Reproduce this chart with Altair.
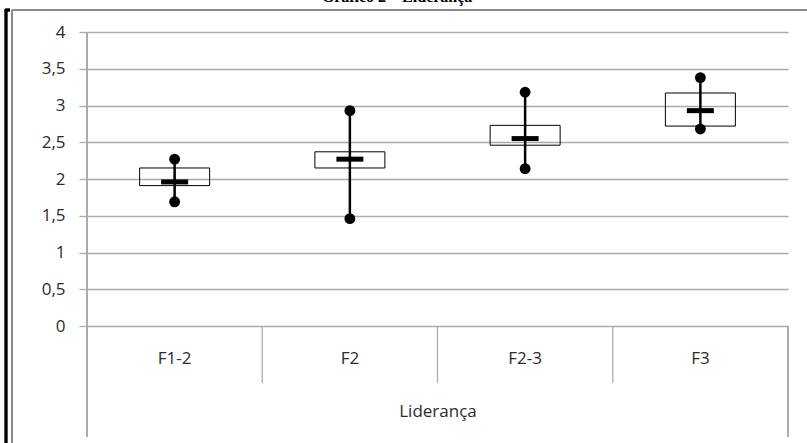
import altair as alt
import pandas as pd

# Leadership scores per group: range (min-max), box (lower-upper) and mean
categories = ["F1-2", "F2", "F2-3", "F3"]
min_values = [1.69, 1.46, 2.14, 2.68]
box_low = [1.91, 2.15, 2.46, 2.72]
mean_values = [1.96, 2.27, 2.55, 2.93]
box_high = [2.15, 2.37, 2.73, 3.17]
max_values = [2.27, 2.93, 3.18, 3.38]

title_text = "Gráfico 2 – Liderança"
group_label = "Liderança"
y_ticks = [0, 0.5, 1, 1.5, 2, 2.5, 3, 3.5, 4]

W, H = 701, 294
FONT = "Open Sans"
TEXT_COLOR = "#2b2b2b"
GRID = "#ababab"

df = pd.DataFrame({
    "cat": categories,
    "lo": min_values,
    "q1": box_low,
    "mean": mean_values,
    "q3": box_high,
    "hi": max_values,
})

x_axis = alt.Axis(
    title=group_label,
    domain=False,
    ticks=False,
    labelAngle=0,
    labelPadding=24,
    labelFontSize=17,
    labelFont=FONT,
    labelColor=TEXT_COLOR,
    titleFont=FONT,
    titleFontSize=17,
    titleFontWeight="normal",
    titleColor=TEXT_COLOR,
    titlePadding=37,
)
x_scale = alt.Scale(paddingInner=0, paddingOuter=0)

y_scale = alt.Scale(domain=[0, 4], nice=False)
y_axis = alt.Axis(
    title=None,
    values=y_ticks,
    format=".1~f",
    labelExpr="replace(datum.label, '.', ',')",
    labelOverlap=False,
    domain=False,
    grid=True,
    gridColor=GRID,
    gridWidth=1.3,
    tickColor=GRID,
    tickSize=8,
    tickWidth=1.3,
    labelPadding=14,
    labelFontSize=17,
    labelFont=FONT,
    labelColor=TEXT_COLOR,
)


def X(**kw):
    return alt.X("cat:N", sort=categories, scale=x_scale, axis=x_axis, **kw)


def Y(field):
    return alt.Y(f"{field}:Q", scale=y_scale, axis=y_axis)


base = alt.Chart(df)

boxes = base.mark_bar(size=70, fill="transparent", stroke="black", strokeWidth=1).encode(
    x=X(), y=Y("q1"), y2="q3:Q",
)

whiskers = base.mark_rule(color="black", strokeWidth=2.5).encode(
    x=X(), y=Y("lo"), y2="hi:Q",
)

means = base.mark_tick(
    color="black", thickness=5, size=27, orient="horizontal", opacity=1
).encode(x=X(), y=Y("mean"))

dots_lo = base.mark_circle(color="black", size=118, opacity=1).encode(x=X(), y=Y("lo"))
dots_hi = base.mark_circle(color="black", size=118, opacity=1).encode(x=X(), y=Y("hi"))

# vertical separators between groups below the axis
sep = alt.Chart(pd.DataFrame({"cat": categories[1:]})).mark_rule(
    color=GRID, strokeWidth=1.3
).encode(
    x=X(bandPosition=0),
    y=alt.value(H),
    y2=alt.value(H + 57),
)

# outer vertical lines of the category table
edge_left = base.mark_rule(color=GRID, strokeWidth=1.3).encode(
    x=alt.value(0), y=alt.value(0), y2=alt.value(H + 111)
)
edge_right = base.mark_rule(color=GRID, strokeWidth=1.3).encode(
    x=alt.value(W), y=alt.value(H), y2=alt.value(H + 111)
)

# page frame
frame_top = base.mark_rule(color="#8a8a8a", strokeWidth=2).encode(
    x=alt.value(-75), x2=alt.value(W + 40), y=alt.value(-22)
)
frame_gray = base.mark_rule(color="#8a8a8a", strokeWidth=2).encode(
    x=alt.value(-75), y=alt.value(-22), y2=alt.value(H + 130)
)
frame_black = base.mark_rule(color="black", strokeWidth=2.5).encode(
    x=alt.value(-81), y=alt.value(-23), y2=alt.value(H + 130)
)
frame_black_top = base.mark_rule(color="black", strokeWidth=2.5).encode(
    x=alt.value(-82), x2=alt.value(-77), y=alt.value(-22)
)

title = alt.Chart(pd.DataFrame({"t": [title_text]})).mark_text(
    font="Liberation Serif", fontSize=16, fontWeight="bold", color="black",
    align="center", baseline="alphabetic",
).encode(text="t:N", x=alt.value(310), y=alt.value(-30))

chart = alt.layer(
    boxes, whiskers, means, dots_lo, dots_hi, sep, edge_left, edge_right,
    frame_top, frame_gray, frame_black, frame_black_top, title,
).properties(
    width=W,
    height=H,
    autosize=alt.AutoSizeParams(type="none"),
    padding={"left": 87, "top": 32, "right": 19, "bottom": 117},
    background="white",
).configure_view(stroke=None)

chart.save("out.html", embed_options={"renderer": "svg", "actions": False})
